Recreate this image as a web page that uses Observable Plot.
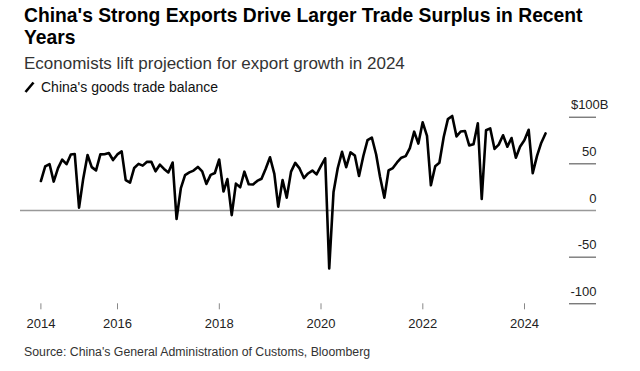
<!DOCTYPE html>
<html>
<head>
<meta charset="utf-8">
<script src="https://cdn.jsdelivr.net/npm/d3@7"></script>
<script src="https://cdn.jsdelivr.net/npm/@observablehq/plot@0.6"></script>
<style>
  html, body { margin: 0; padding: 0; background: #fff; }
  body { width: 640px; height: 371px; position: relative; overflow: hidden;
         font-family: "Liberation Sans", Arial, Helvetica, sans-serif; }
  .blk { position: absolute; left: 24px; white-space: nowrap; }
  #title { top: 4.5px; font-size: 19.3px; line-height: 22.7px; font-weight: bold; color: #000; white-space: normal; width: 590px; }
  #subtitle { top: 55.2px; font-size: 17px; line-height: 17px; color: #333; }
  #legend { top: 80px; left: 24px; font-size: 14px; line-height: 14px; color: #111; }
  #legend svg { position: absolute; left: 0; top: 1px; }
  #legend span { position: absolute; left: 17px; top: 0; }
  #source { top: 345.8px; font-size: 12.3px; line-height: 12.3px; color: #333; }
  #chart { position: absolute; left: 0; top: 96px; }
</style>
</head>
<body>
<div id="title" class="blk">China's Strong Exports Drive Larger Trade Surplus in Recent Years</div>
<div id="subtitle" class="blk">Economists lift projection for export growth in 2024</div>
<div id="legend" class="blk"><svg width="12" height="12"><line x1="1.5" y1="11" x2="9.5" y2="1.5" stroke="#000" stroke-width="2.6"/></svg><span>China's goods trade balance</span></div>
<div id="chart"></div>
<div id="source" class="blk">Source: China's General Administration of Customs, Bloomberg</div>
<script>
// China's monthly goods trade balance, $ billions, June 2014 – May 2024
const firstYear = 2014, firstMonth = 5; // June 2014 (0-based month)
const bal2014 = [31.6, 47.3, 49.8, 31.0, 45.4, 54.5, 49.6];
const bal2015 = [60.0, 60.6, 3.1, 34.1, 59.5, 46.5, 43.0, 60.2, 60.3, 61.6, 54.1, 60.1];
const bal2016 = [63.3, 32.6, 29.9, 45.6, 50.0, 48.1, 52.3, 52.1, 42.0, 49.1, 44.6, 40.8];
const bal2017 = [51.4, -9.1, 24.0, 38.0, 40.8, 42.8, 46.7, 42.0, 28.5, 38.2, 40.2, 54.7];
const bal2018 = [20.3, 33.7, -5.0, 28.8, 24.9, 41.6, 28.1, 27.9, 31.7, 34.0, 44.7, 57.1];
const bal2019 = [39.2, 4.1, 32.6, 13.8, 41.7, 51.0, 45.1, 34.8, 39.7, 42.8, 38.7, 47.5];
const bal2020 = [56.0, -62.0, 19.9, 45.3, 62.9, 46.4, 62.3, 58.9, 37.0, 58.4, 75.4, 78.2];
const bal2021 = [60.0, 36.0, 13.8, 42.9, 45.5, 51.5, 56.6, 58.3, 66.8, 84.5, 71.7, 94.5];
const bal2022 = [80.0, 27.0, 47.4, 51.1, 78.8, 97.9, 101.3, 79.4, 84.7, 85.2, 69.8, 71.0];
const bal2023 = [93.5, 12.5, 86.0, 88.0, 66.0, 70.6, 80.6, 68.4, 77.7, 56.5, 68.4, 75.3];
const bal2024 = [86.5, 40.0, 58.6, 72.4, 82.6];

const balance = [].concat(bal2014, bal2015, bal2016, bal2017, bal2018, bal2019,
                          bal2020, bal2021, bal2022, bal2023, bal2024);

// x-axis tick dates and labels (first label sits at the start of the series)
const xTickDates = ["2014-06-30", "2016-01-01", "2018-01-01", "2020-01-01", "2022-01-01", "2024-01-01"];
const xTickLabels = ["2014", "2016", "2018", "2020", "2022", "2024"];
// y-axis ticks
const yTicks = [100, 50, 0, -50, -100];
const yTopLabel = "$100B";

// month-end dates for each observation
const data = balance.map((v, i) => ({
  date: new Date(Date.UTC(firstYear, firstMonth + i + 1, 0)),
  value: v
}));
const xTicks = xTickDates.map((s, i) => ({date: new Date(s + "T00:00:00Z"), label: xTickLabels[i]}));

const chart = Plot.plot({
  width: 640,
  height: 245,
  marginLeft: 20,
  marginRight: 44,
  marginTop: 20.7,
  marginBottom: 37.7,
  style: {fontFamily: '"Liberation Sans", Arial, sans-serif', color: "#333", background: "transparent"},
  x: {type: "utc", domain: [new Date(Date.UTC(2016, 0, 1)), new Date(Date.UTC(2024, 0, 1))], range: [117, 524], axis: null},
  y: {domain: [-100, 100], range: [207.3, 20.7], axis: null},
  marks: [
    Plot.ruleY([0], {stroke: "#999", strokeWidth: 1.3}),
    Plot.tickY(yTicks.filter(d => d !== 0), {y: d => d, insetLeft: 549, stroke: "#444", strokeWidth: 1}),
    Plot.text(yTicks.filter(d => d !== 100), {y: d => d, text: d => String(d), frameAnchor: "right", textAnchor: "end", dy: -12, fontSize: 13, fill: "#222"}),
    Plot.text([100], {y: d => d, text: () => yTopLabel, frameAnchor: "right", textAnchor: "end", dx: 12, dy: -12, fontSize: 13, fill: "#222"}),
    Plot.axisX(xTicks.map(d => d.date), {anchor: "bottom", tickSize: 6, tickPadding: 8.5, tickFormat: d => xTicks.find(t => +t.date === +d).label, fontSize: 13, stroke: "#888", fill: "#222"}),
    Plot.line(data, {x: "date", y: "value", stroke: "#000", strokeWidth: 2.6, strokeLinejoin: "round"})
  ]
});
document.getElementById("chart").appendChild(chart);
</script>
</body>
</html>
